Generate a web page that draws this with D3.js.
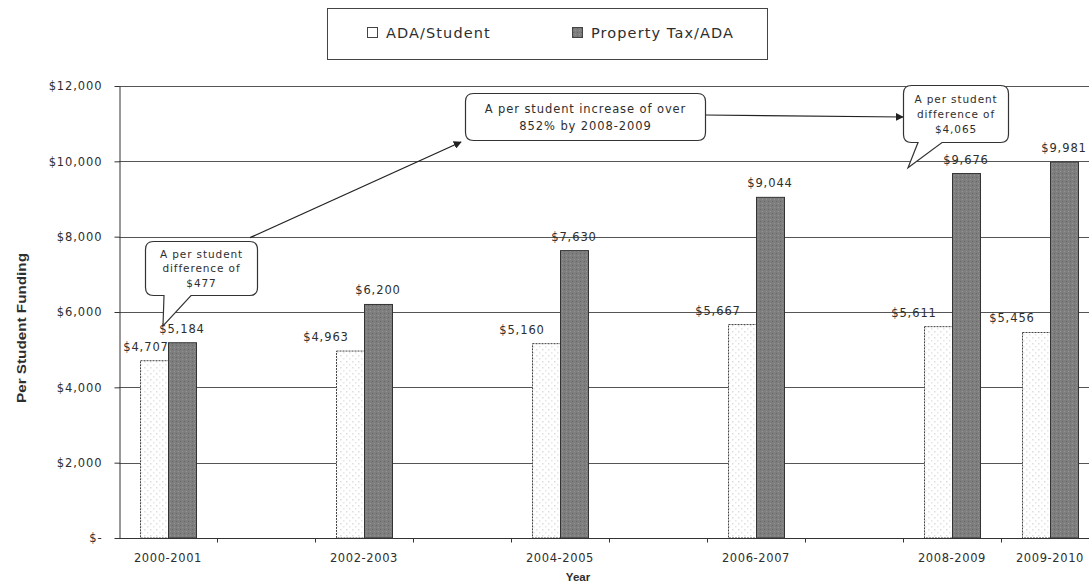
<!DOCTYPE html>
<html>
<head>
<meta charset="utf-8">
<script src="https://cdn.jsdelivr.net/npm/d3@7"></script>
<style>
  body { margin: 0; background: #fff; }
  svg { display: block; font-family: "DejaVu Sans", Verdana, sans-serif; }
</style>
</head>
<body>
<div id="chart"></div>
<script>
// school years on the axis (every slot, labelled only where there is data)
const schoolYears = ["2000-2001", "2001-2002", "2002-2003", "2003-2004", "2004-2005", "2005-2006",
  "2006-2007", "2007-2008", "2008-2009", "2009-2010", "2010-2011"];
const years = ["2000-2001", "2002-2003", "2004-2005", "2006-2007", "2008-2009", "2009-2010"];
const adaPerStudent = [4707, 4963, 5160, 5667, 5611, 5456];
const propertyTaxPerAda = [5184, 6200, 7630, 9044, 9676, 9981];
const seriesNames = ["ADA/Student", "Property Tax/ADA"];
const yTicks = [0, 2000, 4000, 6000, 8000, 10000, 12000];

const w = 1089;
const h = 586;
const plotLeft = 119;
const plotBottom = 538;
const plotTop = 86;
const step = 98;

const svg = d3.select("#chart")
  .append("svg")
  .attr("width", w)
  .attr("height", h);

const defs = svg.append("defs");
// light dots inside the white bars, darker dots inside the grey bars
const pWhite = defs.append("pattern").attr("id", "dotsWhite")
  .attr("width", 6).attr("height", 6).attr("patternUnits", "userSpaceOnUse");
pWhite.append("rect").attr("width", 6).attr("height", 6).attr("fill", "#fff");
pWhite.append("rect").attr("x", 1).attr("y", 1).attr("width", 1.5).attr("height", 1.5).attr("fill", "#ddd");
pWhite.append("rect").attr("x", 4).attr("y", 4).attr("width", 1.5).attr("height", 1.5).attr("fill", "#e6e6e6");
const pGrey = defs.append("pattern").attr("id", "dotsGrey")
  .attr("width", 4).attr("height", 4).attr("patternUnits", "userSpaceOnUse");
pGrey.append("rect").attr("width", 4).attr("height", 4).attr("fill", "#7e7e7e");
pGrey.append("rect").attr("x", 1).attr("y", 1).attr("width", 1).attr("height", 1).attr("fill", "#666");
pGrey.append("rect").attr("x", 3).attr("y", 3).attr("width", 1).attr("height", 1).attr("fill", "#959595");

defs.append("marker")
  .attr("id", "arrow")
  .attr("viewBox", "0 0 10 10")
  .attr("refX", 9).attr("refY", 5)
  .attr("markerWidth", 8).attr("markerHeight", 8)
  .attr("markerUnits", "userSpaceOnUse")
  .attr("orient", "auto")
  .append("path")
  .attr("d", "M0,0 L10,5 L0,10 Z")
  .attr("fill", "#222");

//SCALES
const x0 = d3.scaleBand()
  .domain(schoolYears)
  .range([plotLeft, plotLeft + step * schoolYears.length]);
const x1 = d3.scaleBand()
  .domain(seriesNames)
  .range([0, x0.bandwidth()])
  .paddingOuter(0.75);
const y = d3.scaleLinear()
  .domain([0, 12000])
  .range([plotBottom, plotTop]);

const money = d => d === 0 ? "$-" : "$" + d3.format(",")(d);
const textCol = "#2e2e2e";

//GRIDLINES
svg.append("g")
  .selectAll("line")
  .data(yTicks.filter(d => d > 0))
  .enter()
  .append("line")
  .attr("x1", plotLeft).attr("x2", w)
  .attr("y1", d => Math.round(y(d)) + 0.5)
  .attr("y2", d => Math.round(y(d)) + 0.5)
  .attr("stroke", "#555")
  .attr("stroke-width", 1);

//BARS
const rows = years.map((yr, i) => ({year: yr, values: [adaPerStudent[i], propertyTaxPerAda[i]]}));
const groups = svg.append("g")
  .selectAll("g")
  .data(rows)
  .enter()
  .append("g")
  .attr("transform", d => `translate(${x0(d.year)},0)`);

groups.selectAll("rect")
  .data(d => d.values.map((v, j) => ({series: seriesNames[j], value: v})))
  .enter()
  .append("rect")
  .attr("x", d => x1(d.series) + 0.5)
  .attr("y", d => y(d.value))
  .attr("width", x1.bandwidth())
  .attr("height", d => plotBottom - y(d.value))
  .attr("fill", d => d.series === seriesNames[0] ? "url(#dotsWhite)" : "url(#dotsGrey)")
  .attr("stroke", d => d.series === seriesNames[0] ? "#444" : "#333")
  .attr("stroke-width", 1)
  .attr("stroke-dasharray", d => d.series === seriesNames[0] ? "2,1" : null);

//DATA LABELS (the ADA labels sit a little to the left in the original)
groups.selectAll("text")
  .data(d => d.values.map((v, j) => ({series: seriesNames[j], value: v, year: d.year})))
  .enter()
  .append("text")
  .attr("x", d => {
    const cx = x1(d.series) + x1.bandwidth() / 2;
    if (d.series !== seriesNames[0]) return cx;
    return Math.max(cx - 24, plotLeft + 27 - x0(d.year));
  })
  .attr("y", d => y(d.value) - 10)
  .attr("text-anchor", "middle")
  .attr("font-size", 11.5)
  .attr("letter-spacing", 0.9)
  .attr("fill", textCol)
  .text(d => money(d.value));

//AXES
const yAxis = d3.axisLeft(y)
  .tickValues(yTicks)
  .tickSizeInner(5)
  .tickSizeOuter(0)
  .tickPadding(12)
  .tickFormat(money);
const gy = svg.append("g")
  .attr("transform", `translate(${plotLeft + 0.5},0)`)
  .call(yAxis);
gy.select(".domain").attr("stroke", "#333");
gy.selectAll(".tick line").attr("stroke", "#333");
gy.selectAll("text")
  .attr("font-family", "DejaVu Sans, sans-serif")
  .attr("font-size", 11.5)
  .attr("letter-spacing", 0.9)
  .attr("fill", textCol);

const gx = svg.append("g")
  .attr("transform", `translate(0,${plotBottom + 0.5})`);
gx.append("line")
  .attr("x1", plotLeft).attr("x2", w)
  .attr("stroke", "#333");
gx.selectAll(".xtick")
  .data(schoolYears)
  .enter()
  .append("line")
  .attr("class", "xtick")
  .attr("x1", d => Math.round(x0(d) + x0.bandwidth()) + 0.5)
  .attr("x2", d => Math.round(x0(d) + x0.bandwidth()) + 0.5)
  .attr("y1", 0).attr("y2", 4)
  .attr("stroke", "#333");
gx.selectAll("text")
  .data(years)
  .enter()
  .append("text")
  .attr("x", d => x0(d) + x0.bandwidth() / 2)
  .attr("y", 23)
  .attr("text-anchor", "middle")
  .attr("font-size", 11.5)
  .attr("letter-spacing", 0.6)
  .attr("fill", textCol)
  .text(d => d);

//AXIS TITLES
svg.append("text")
  .attr("transform", `translate(26,${(plotTop + plotBottom) / 2 + 16}) rotate(-90)`)
  .attr("text-anchor", "middle")
  .attr("font-family", "Liberation Sans, Arial, sans-serif")
  .attr("font-weight", "bold")
  .attr("font-size", 12.5)
  .attr("textLength", 150)
  .attr("lengthAdjust", "spacingAndGlyphs")
  .attr("fill", textCol)
  .text("Per Student Funding");
svg.append("text")
  .attr("x", 578)
  .attr("y", 581)
  .attr("text-anchor", "middle")
  .attr("font-family", "Liberation Sans, Arial, sans-serif")
  .attr("font-weight", "bold")
  .attr("font-size", 11.5)
  .attr("fill", textCol)
  .text("Year");

//LEGEND
const legend = svg.append("g");
legend.append("rect")
  .attr("x", 327.5).attr("y", 8.5)
  .attr("width", 440).attr("height", 51)
  .attr("fill", "#fff")
  .attr("stroke", "#444");
const legendItems = legend.selectAll("g")
  .data(seriesNames)
  .enter()
  .append("g")
  .attr("transform", (d, i) => `translate(${i === 0 ? 367 : 572},27)`);
legendItems.append("rect")
  .attr("x", 0.5).attr("y", 0.5)
  .attr("width", 10).attr("height", 10)
  .attr("fill", (d, i) => i === 0 ? "#fff" : "url(#dotsGrey)")
  .attr("stroke", "#444");
legendItems.append("text")
  .attr("x", 19)
  .attr("y", 10.5)
  .attr("font-size", 14.5)
  .attr("letter-spacing", 1.1)
  .attr("fill", textCol)
  .text(d => d);

//CALLOUTS
function calloutPath(bx0, by0, bx1, by1, r, tail) {
  let p = `M${bx0 + r},${by0} H${bx1 - r} Q${bx1},${by0} ${bx1},${by0 + r} V${by1 - r} Q${bx1},${by1} ${bx1 - r},${by1}`;
  if (tail) p += ` H${tail[1]} L${tail[2]},${tail[3]} L${tail[0]},${by1}`;
  p += ` H${bx0 + r} Q${bx0},${by1} ${bx0},${by1 - r} V${by0 + r} Q${bx0},${by0} ${bx0 + r},${by0} Z`;
  return p;
}

const notes = svg.append("g");

// arrow from the first callout up to the middle one
notes.append("line")
  .attr("x1", 250).attr("y1", y(8000) + 1)
  .attr("x2", 461).attr("y2", 142)
  .attr("stroke", "#222").attr("stroke-width", 1.3)
  .attr("marker-end", "url(#arrow)");
// line from the middle callout across to the last one
notes.append("line")
  .attr("x1", 705).attr("y1", 115)
  .attr("x2", 903).attr("y2", 117)
  .attr("stroke", "#222").attr("stroke-width", 1.1)
  .attr("marker-end", "url(#arrow)");

const tipFirst = x0(years[0]) + 44;
const tipLast = x0(years[4]) + 5;
const callouts = [
  {box: [145.5, 241.5, 257.5, 295.5], tail: [164, 191, tipFirst, y(5630)],
    lines: ["A per student", "difference of", "$477"], size: 10.5, lh: 14.5},
  {box: [465.5, 93.5, 705.5, 140.5], tail: null,
    lines: ["A per student increase of over", "852% by 2008-2009"], size: 11.5, lh: 17},
  {box: [903.5, 85.5, 1008.5, 142.5], tail: [918, 942, tipLast, y(9830)],
    lines: ["A per student", "difference of", "$4,065"], size: 10.5, lh: 15}
];

callouts.forEach(c => {
  const [bx0, by0, bx1, by1] = c.box;
  notes.append("path")
    .attr("d", calloutPath(bx0, by0, bx1, by1, 8, c.tail))
    .attr("fill", "#fff")
    .attr("stroke", "#333")
    .attr("stroke-width", 1.2);
  const cx = (bx0 + bx1) / 2;
  const cy = (by0 + by1) / 2 - (c.lines.length - 1) * c.lh / 2;
  notes.append("text")
    .attr("text-anchor", "middle")
    .attr("font-size", c.size)
    .attr("letter-spacing", 0.9)
    .attr("fill", textCol)
    .selectAll("tspan")
    .data(c.lines)
    .enter()
    .append("tspan")
    .attr("x", cx)
    .attr("y", (d, i) => cy + i * c.lh + c.size * 0.36)
    .text(d => d);
});
</script>
</body>
</html>
